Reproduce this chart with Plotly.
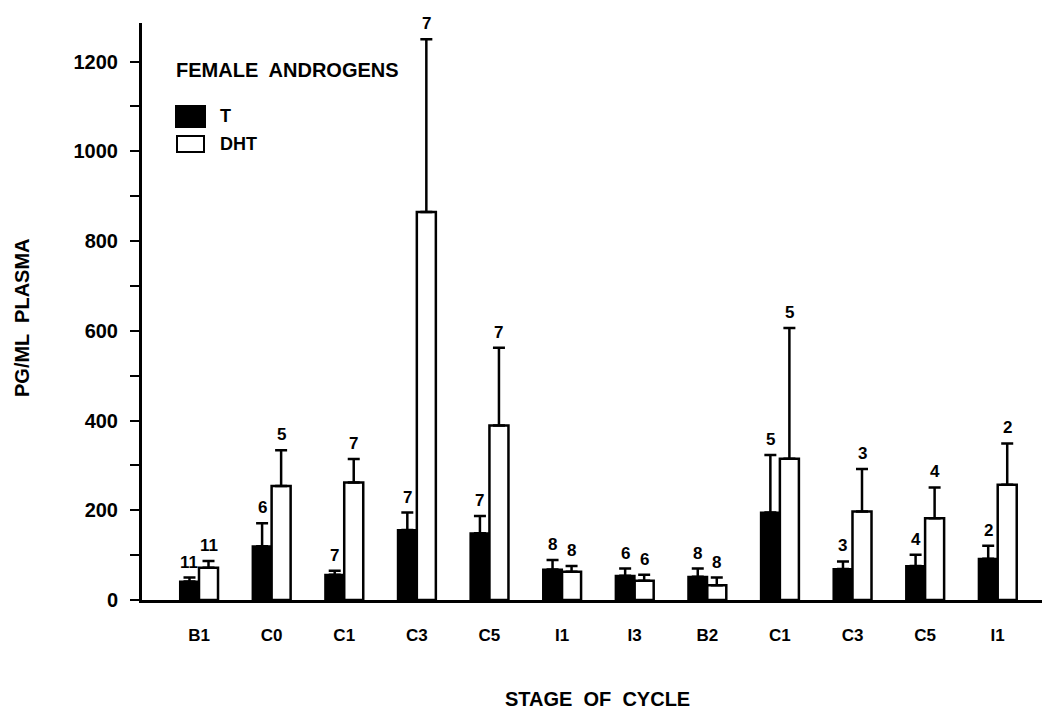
import plotly.graph_objects as go

stages = ["B1", "C0", "C1", "C3", "C5", "I1", "I3", "B2", "C1", "C3", "C5", "I1"]
t_vals = [41, 120, 56, 156, 149, 68, 54, 52, 195, 69, 76, 92]
t_err = [9, 51, 9, 39, 38, 21, 16, 18, 128, 17, 25, 29]
dht_vals = [72, 254, 262, 865, 389, 63, 43, 33, 315, 197, 182, 257]
dht_err = [15, 80, 52, 385, 173, 13, 13, 17, 291, 95, 69, 92]
t_n = ["11", "6", "7", "7", "7", "8", "6", "8", "5", "3", "4", "2"]
dht_n = ["11", "5", "7", "7", "7", "8", "6", "8", "5", "3", "4", "2"]

pos = list(range(len(stages)))
BW = 0.262
FONT = "Liberation Sans"

fig = go.Figure()
fig.add_trace(go.Bar(
    x=pos, y=t_vals, width=BW, offset=-BW, name="T",
    marker=dict(color="black", line=dict(color="black", width=2)),
    error_y=dict(type="data", symmetric=False, array=t_err,
                 arrayminus=[0] * len(t_err), color="black", thickness=2.5, width=6),
))
fig.add_trace(go.Bar(
    x=pos, y=dht_vals, width=BW, offset=0, name="DHT",
    marker=dict(color="white", line=dict(color="black", width=2.5)),
    error_y=dict(type="data", symmetric=False, array=dht_err,
                 arrayminus=[0] * len(dht_err), color="black", thickness=2.5, width=6),
))

ann = []
for i in pos:
    ann.append(dict(x=i - BW / 2, y=t_vals[i] + t_err[i], xref="x", yref="y",
                    text=t_n[i], showarrow=False, yanchor="bottom", yshift=4,
                    font=dict(family=FONT, size=17, color="black", weight="bold")))
    ann.append(dict(x=i + BW / 2, y=dht_vals[i] + dht_err[i], xref="x", yref="y",
                    text=dht_n[i], showarrow=False, yanchor="bottom", yshift=4,
                    font=dict(family=FONT, size=17, color="black", weight="bold")))

# titles and legend text
ann.append(dict(x=(174 - 142) / 900, y=(600 - 70) / 577, xref="paper", yref="paper",
                text="FEMALE  ANDROGENS", showarrow=False, xanchor="left", yanchor="middle",
                font=dict(family=FONT, size=20, color="black", weight="bold")))
ann.append(dict(x=(218 - 142) / 900, y=(600 - 116) / 577, xref="paper", yref="paper",
                text="T", showarrow=False, xanchor="left", yanchor="middle",
                font=dict(family=FONT, size=18, color="black", weight="bold")))
ann.append(dict(x=(218 - 142) / 900, y=(600 - 144) / 577, xref="paper", yref="paper",
                text="DHT", showarrow=False, xanchor="left", yanchor="middle",
                font=dict(family=FONT, size=18, color="black", weight="bold")))
ann.append(dict(x=(22 - 142) / 900, y=(600 - 318) / 577, xref="paper", yref="paper",
                text="PG/ML  PLASMA", showarrow=False, textangle=-90,
                xanchor="center", yanchor="middle",
                font=dict(family=FONT, size=20, color="black", weight="bold")))
ann.append(dict(x=(597 - 142) / 900, y=(600 - 699) / 577, xref="paper", yref="paper",
                text="STAGE  OF  CYCLE", showarrow=False,
                xanchor="center", yanchor="middle",
                font=dict(family=FONT, size=20, color="black", weight="bold")))

shapes = [
    dict(type="rect", xref="paper", yref="paper",
         x0=(176 - 142) / 900, x1=(205 - 142) / 900,
         y0=(600 - 127) / 577, y1=(600 - 106) / 577,
         fillcolor="black", line=dict(color="black", width=2)),
    dict(type="rect", xref="paper", yref="paper",
         x0=(177 - 142) / 900, x1=(204 - 142) / 900,
         y0=(600 - 152) / 577, y1=(600 - 136) / 577,
         fillcolor="white", line=dict(color="black", width=2)),
]

fig.update_layout(
    width=1042, height=713,
    margin=dict(l=142, r=0, t=23, b=113),
    paper_bgcolor="white", plot_bgcolor="white",
    showlegend=False, barmode="overlay",
    annotations=ann, shapes=shapes,
    font=dict(family=FONT, color="black"),
)
fig.update_xaxes(
    range=[-0.785, 11.61], tickvals=pos, ticktext=stages,
    showline=True, linecolor="black", linewidth=3,
    ticks="outside", ticklen=18, tickcolor="rgba(0,0,0,0)",
    showgrid=False, zeroline=False,
    tickfont=dict(family=FONT, size=17, color="black", weight="bold"),
)
fig.update_yaxes(
    range=[0, 1286], tickvals=[0, 200, 400, 600, 800, 1000, 1200],
    showline=True, linecolor="black", linewidth=3,
    ticks="outside", ticklen=9, tickwidth=2, tickcolor="black",
    minor=dict(dtick=100, tick0=0, ticks="outside", ticklen=9, tickwidth=2, tickcolor="black"),
    ticklabelstandoff=8,
    showgrid=False, zeroline=False,
    tickfont=dict(family=FONT, size=20, color="black", weight="bold"),
)

fig.write_html("out.html")
